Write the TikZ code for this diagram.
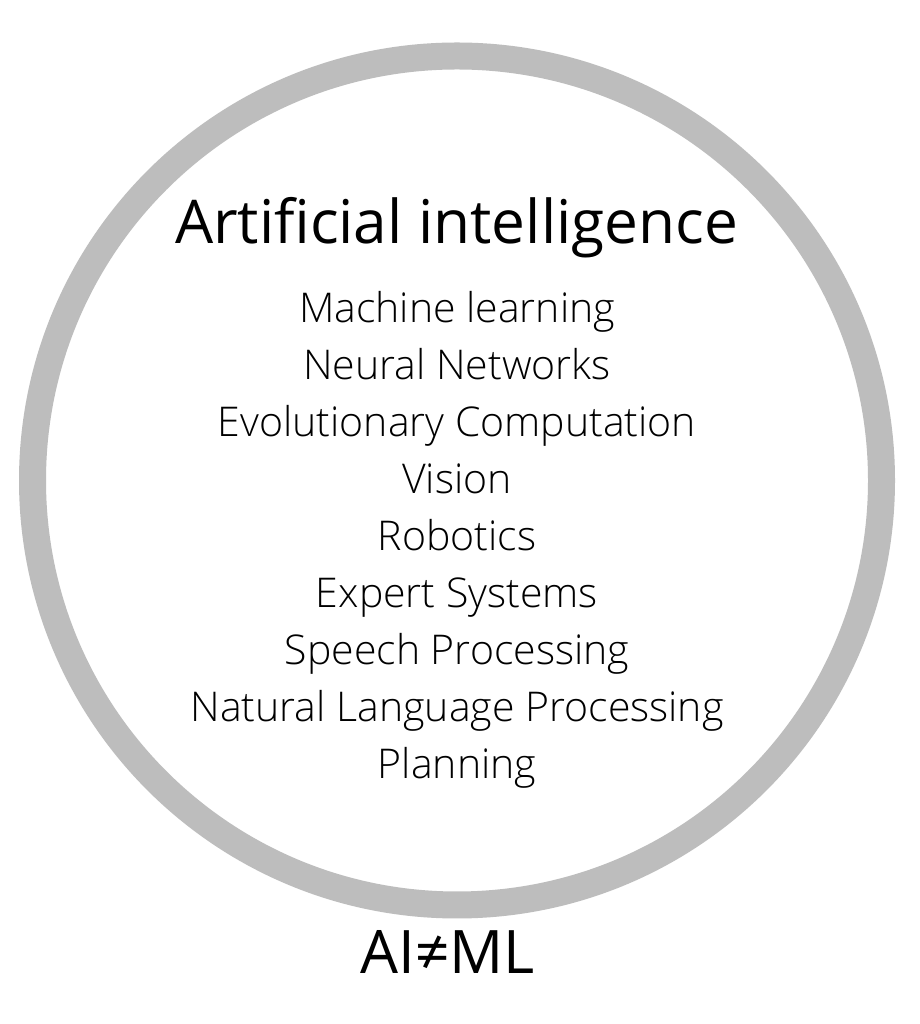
\documentclass[tikz,border=0pt]{standalone}
\usepackage{fontspec}
\setmainfont{Open Sans}
\newfontfamily\lightfont{Open Sans Light}
\definecolor{ringgray}{RGB}{189,189,189}
\tikzset{
  ring/.style={draw=ringgray, line width=27pt},
  titletext/.style={anchor=base, inner sep=0pt, font=\fontsize{60.3}{70}\selectfont},
  itemtext/.style={anchor=base, inner sep=0pt, font=\lightfont\fontsize{41}{48}\selectfont},
  bottomtext/.style={anchor=base, inner sep=0pt, font=\fontsize{60}{70}\selectfont}
}
\begin{document}
\begin{tikzpicture}[x=1pt,y=1pt]
\useasboundingbox (0,0) rectangle (919,1024);
\fill[white] (0,0) rectangle (919,1024);
\node[circle, ring, minimum size=849pt, inner sep=0pt] (ringc) at (457,543.5) {};
\node[titletext] (title) at (456.5,780) {Artificial intelligence};
\node[itemtext] (i1) at (457,701.5) {Machine learning};
\node[itemtext] (i2) at (457,644.5) {Neural Networks};
\node[itemtext] (i3) at (457,587.5) {Evolutionary Computation};
\node[itemtext] (i4) at (457,530.5) {Vision};
\node[itemtext] (i5) at (457,473.5) {Robotics};
\node[itemtext] (i6) at (457,416.5) {Expert Systems};
\node[itemtext] (i7) at (457,359.5) {Speech Processing};
\node[itemtext] (i8) at (457,302.5) {Natural Language Processing};
\node[itemtext] (i9) at (457,245.5) {Planning};
\node[bottomtext] (aiml) at (447.5,50) {AI≠ML};
\end{tikzpicture}
\end{document}
